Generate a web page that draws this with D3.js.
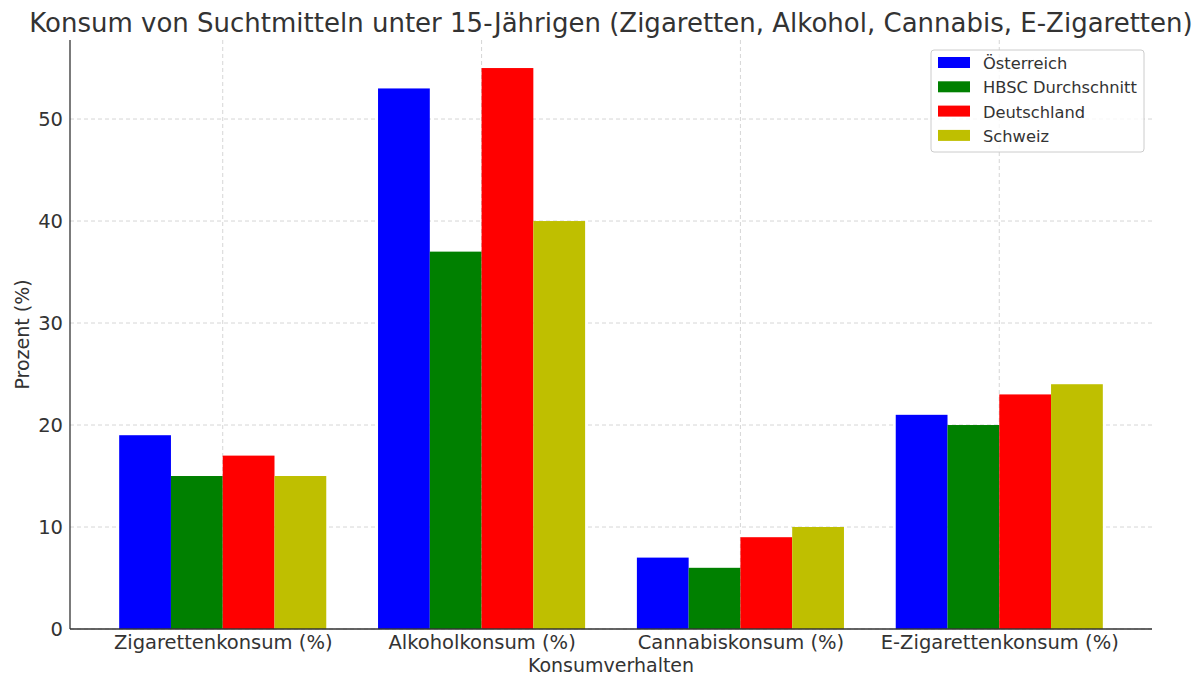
<!DOCTYPE html>
<html>
<head>
<meta charset="utf-8">
<script src="https://cdn.jsdelivr.net/npm/d3@7"></script>
<style>
  body { margin: 0; background: #fff; }
  text { font-family: "DejaVu Sans", sans-serif; fill: #333; }
  .grid line { stroke: #ccc; stroke-dasharray: 4,3; stroke-width: 0.8; }
</style>
</head>
<body>
<svg id="chart" width="1204" height="678"></svg>
<script>
"use strict";

const categories = ["Zigarettenkonsum (%)", "Alkoholkonsum (%)", "Cannabiskonsum (%)", "E-Zigarettenkonsum (%)"];
const seriesNames = ["Österreich", "HBSC Durchschnitt", "Deutschland", "Schweiz"];
const seriesColors = ["#0000ff", "#008000", "#ff0000", "#bfbf00"];
const oesterreich = [19, 53, 7, 21];
const hbsc = [15, 37, 6, 20];
const deutschland = [17, 55, 9, 23];
const schweiz = [15, 40, 10, 24];
const yTicks = [0, 10, 20, 30, 40, 50];

const series = [oesterreich, hbsc, deutschland, schweiz];

const plotLeft = 70, plotRight = 1152, plotTop = 40, plotBottom = 629;
const barw = 0.2;

const svg = d3.select("#chart");

// matplotlib style: numeric x positions with 5% margins
const x = d3.scaleLinear()
  .domain([-0.4 - 0.19, 3.4 + 0.19])
  .range([plotLeft, plotRight]);
const y = d3.scaleLinear()
  .domain([0, 55 * 1.05])
  .range([plotBottom, plotTop]);

// grid
const grid = svg.append("g").classed("grid", true);
grid.selectAll(".gy").data(yTicks).enter()
  .append("line")
  .attr("x1", plotLeft).attr("x2", plotRight)
  .attr("y1", d => y(d)).attr("y2", d => y(d));
grid.selectAll(".gx").data(categories).enter()
  .append("line")
  .attr("x1", (d, i) => x(i)).attr("x2", (d, i) => x(i))
  .attr("y1", plotTop).attr("y2", plotBottom);

// bars
series.forEach((vals, s) => {
  svg.append("g")
    .selectAll("rect")
    .data(vals)
    .enter()
    .append("rect")
    .attr("x", (d, i) => x(i + (s - 1.5) * barw - barw / 2))
    .attr("width", x(barw) - x(0))
    .attr("y", d => y(d))
    .attr("height", d => y(0) - y(d))
    .attr("fill", seriesColors[s]);
});

// axes
const yaxis = d3.axisLeft(y).tickValues(yTicks).tickSize(0).tickPadding(7);
const ya = svg.append("g")
  .attr("transform", `translate(${plotLeft},0)`)
  .call(yaxis);
ya.select(".domain").remove();
ya.selectAll("text").style("font-size", "19.5px").attr("fill", "#333").style("font-family", "DejaVu Sans");

const xaxis = d3.axisBottom(x).tickValues([0, 1, 2, 3]).tickFormat(i => categories[i]).tickSize(0).tickPadding(6);
const xa = svg.append("g")
  .attr("transform", `translate(0,${plotBottom})`)
  .call(xaxis);
xa.select(".domain").remove();
xa.selectAll("text").style("font-size", "19.5px").attr("fill", "#333").style("font-family", "DejaVu Sans");

// spines
svg.append("line")
  .attr("x1", plotLeft).attr("x2", plotLeft).attr("y1", plotTop).attr("y2", plotBottom)
  .attr("stroke", "#333").attr("stroke-width", 1.3);
svg.append("line")
  .attr("x1", plotLeft).attr("x2", plotRight).attr("y1", plotBottom).attr("y2", plotBottom)
  .attr("stroke", "#333").attr("stroke-width", 1.3);

// titles
svg.append("text")
  .attr("x", (plotLeft + plotRight) / 2).attr("y", 32)
  .attr("text-anchor", "middle")
  .style("font-size", "26px")
  .text("Konsum von Suchtmitteln unter 15-Jährigen (Zigaretten, Alkohol, Cannabis, E-Zigaretten)");
svg.append("text")
  .attr("x", (plotLeft + plotRight) / 2).attr("y", 672)
  .attr("text-anchor", "middle")
  .style("font-size", "19px")
  .text("Konsumverhalten");
svg.append("text")
  .attr("transform", `translate(29,${(plotTop + plotBottom) / 2}) rotate(-90)`)
  .attr("text-anchor", "middle")
  .style("font-size", "19px")
  .text("Prozent (%)");

// legend
const legend = svg.append("g").attr("transform", "translate(931,50)");
legend.append("rect")
  .attr("width", 213).attr("height", 102)
  .attr("rx", 3).attr("ry", 3)
  .attr("fill", "#fff").attr("fill-opacity", 0.8)
  .attr("stroke", "#ccc");
seriesNames.forEach((name, i) => {
  const g = legend.append("g").attr("transform", `translate(0,${13 + i * 24.3})`);
  g.append("rect")
    .attr("x", 7).attr("y", -6)
    .attr("width", 32).attr("height", 11)
    .attr("fill", seriesColors[i]);
  g.append("text")
    .attr("x", 52).attr("y", 6)
    .style("font-size", "16.3px")
    .text(name);
});
</script>
</body>
</html>
